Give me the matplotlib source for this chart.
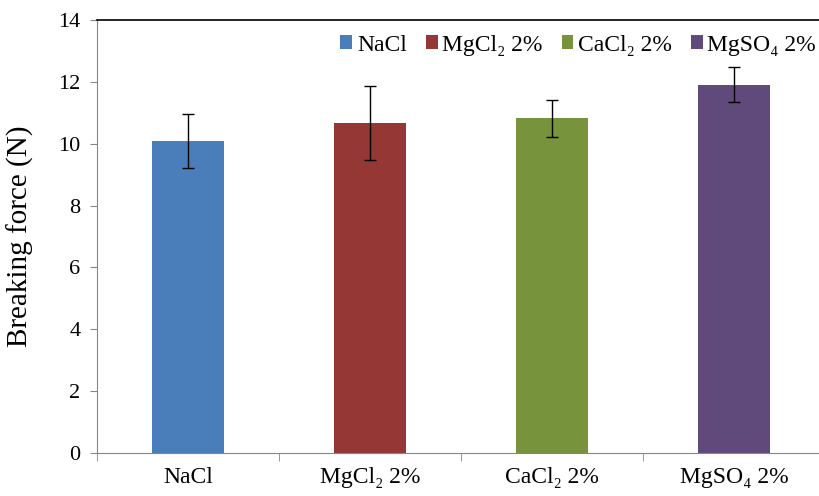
import matplotlib.pyplot as plt
from matplotlib.patches import Patch

# breaking force per salt treatment
labels = ['NaCl', 'MgCl₂ 2%', 'CaCl₂ 2%', 'MgSO₄ 2%']
force = [10.10, 10.66, 10.82, 11.91]
err = [0.87, 1.19, 0.60, 0.57]
colors = ['#4a7ebb', '#953735', '#77933c', '#604a7b']

plt.rcParams['font.family'] = ['Liberation Serif', 'DejaVu Serif']

fig = plt.figure(figsize=(8.2, 4.96), dpi=100)
ax = fig.add_axes([97 / 820, 1 - 453 / 496, 728 / 820, 433 / 496])

x = range(len(labels))
ax.bar(x, force, width=0.4, color=colors, yerr=err,
       error_kw=dict(ecolor='black', elinewidth=1.0, capsize=4, capthick=1.0))

ax.set_xlim(-0.5, 3.5)
ax.set_ylim(0, 14)
ax.set_yticks(range(0, 15, 2))
ax.set_xticks(list(x))
ax.set_xticklabels(labels, fontsize=17)
ax.set_xticks([0.5, 1.5, 2.5, -0.5], minor=True)
ax.tick_params(axis='x', which='major', length=0, pad=10)
ax.tick_params(axis='x', which='minor', length=6, color='#868686', direction='out')
ax.tick_params(axis='y', length=5, color='#868686', labelsize=16, pad=7)
ax.set_ylabel('Breaking force (N)', fontsize=21)
ax.yaxis.set_label_coords((34 - 97) / 728, 0.5)

ax.spines['right'].set_visible(False)
ax.spines['left'].set_color('#868686')
ax.spines['bottom'].set_color('#868686')
ax.spines['top'].set_color('black')
ax.spines['top'].set_linewidth(1.2)

handles = [Patch(facecolor=c) for c in colors]
ax.legend(handles, labels, ncol=4, frameon=False, fontsize=17,
          loc='center right', bbox_to_anchor=((816 - 97) / 728, (453 - 45) / 433),
          handlelength=0.5, handleheight=0.5, handletextpad=0.2, columnspacing=0.8,
          borderaxespad=0, borderpad=0)

fig.savefig('out.png', dpi=100)
